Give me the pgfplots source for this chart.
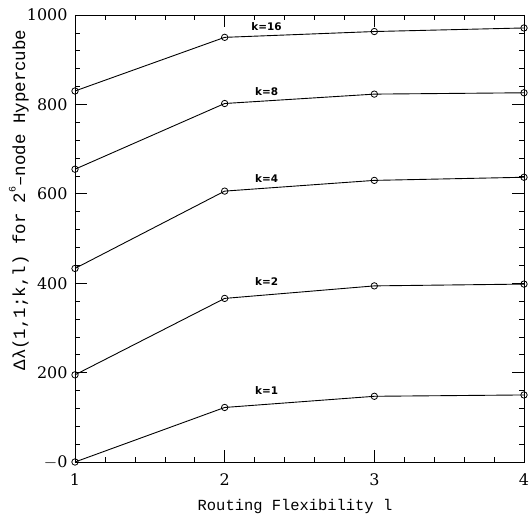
\documentclass[border=0pt]{standalone}
\usepackage{fontspec}
\setmainfont{DejaVu Serif}
\newfontfamily\labfont{Liberation Mono}
\newfontfamily\kfont{DejaVu Sans}
\usepackage{pgfplots}
\pgfplotsset{compat=1.18}
\begin{document}
\begin{tikzpicture}[ser/.style={black, line width=0.9pt, mark=o, mark size=3.2bp, mark options={line width=0.8pt, solid, fill=none}}]
\useasboundingbox (-75bp,-57bp) rectangle (454bp,462bp);
\begin{axis}[
  at={(0,0)}, anchor=south west,
  scale only axis,
  width=449bp, height=447bp,
  xmin=1, xmax=4, ymin=0, ymax=1000,
  xtick={1,2,3,4},
  ytick={0,200,400,600,800,1000},
  yticklabels={$-$0,200,400,600,800,1000},
  minor x tick num=4,
  minor y tick num=4,
  tick align=inside,
  major tick length=12bp,
  minor tick length=5bp,
  tick style={black, line width=0.6pt},
  axis line style={line width=0.9pt},
  /pgf/number format/assume math mode=true,
  ticklabel style={font=\fontsize{16}{18}\selectfont},
  xticklabel style={yshift=-8bp},
  yticklabel style={xshift=-4bp},
  xlabel={Routing Flexibility l},
  ylabel={Δλ(1,1;k,l) for 2\raisebox{0.55em}{\fontsize{10}{10}\selectfont 6}–node Hypercube},
  xlabel style={font=\labfont\fontsize{15.5}{17}\selectfont, at={(axis description cs:0.49,-0.1)}, anchor=center},
  ylabel style={font=\labfont\fontsize{17.5}{19}\selectfont, at={(axis description cs:-0.125,0.586)}, anchor=center},
  clip=false,
]
\addplot[ser] coordinates {(1,830) (2,950) (3,963) (4,971)};
\addplot[ser] coordinates {(1,655) (2,802) (3,823) (4,826)};
\addplot[ser] coordinates {(1,433) (2,606) (3,630) (4,637)};
\addplot[ser] coordinates {(1,195) (2,366) (3,394) (4,398)};
\addplot[ser] coordinates {(1,0) (2,122) (3,147) (4,150)};
\begin{scope}[every node/.style={font=\kfont\bfseries\fontsize{10.5}{11}\selectfont}]
\node at (axis cs:2.28,975) {k=16};
\node at (axis cs:2.28,829) {k=8};
\node at (axis cs:2.28,634) {k=4};
\node at (axis cs:2.28,403) {k=2};
\node at (axis cs:2.28,160) {k=1};
\end{scope}
\end{axis}
\end{tikzpicture}
\end{document}
